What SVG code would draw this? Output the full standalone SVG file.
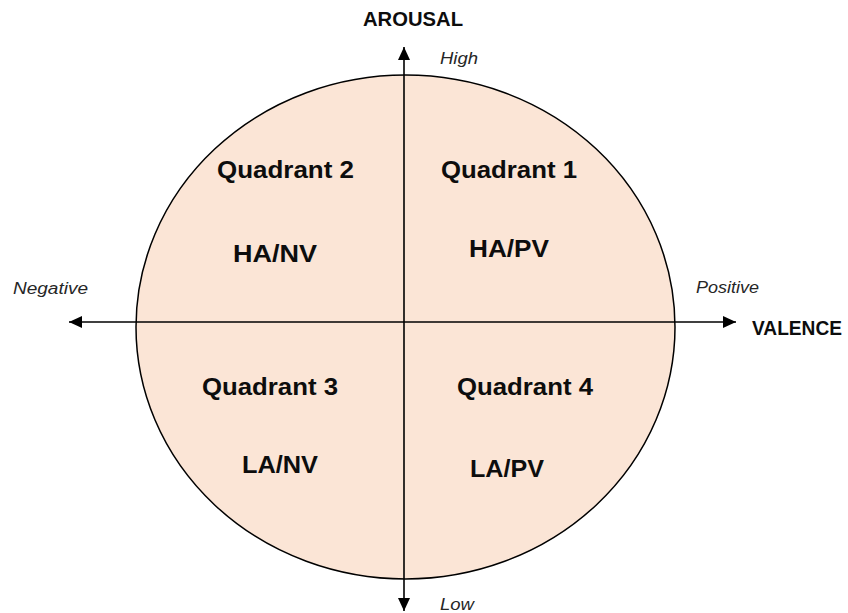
<svg xmlns="http://www.w3.org/2000/svg" width="848" height="613" viewBox="0 0 848 613">
  <style>
    .bold { font-family: "Liberation Sans", Arial, sans-serif; font-weight: bold; fill: #0d0d0d; }
    .q { font-size: 24px; }
    .ax { font-size: 20px; }
    .it { font-family: "Liberation Sans", Arial, sans-serif; font-style: italic; font-size: 16px; fill: #262626; }
    .axis { stroke: #000; stroke-width: 1.6; fill: none; }
  </style>
  <defs>
    <marker id="arrow" markerUnits="userSpaceOnUse" markerWidth="14" markerHeight="12" refX="13" refY="6" orient="auto">
      <path d="M0,0 L13,6 L0,12 Z" fill="#000"/>
    </marker>
  </defs>
  <rect width="848" height="613" fill="#fff"/>
  <g id="circle">
    <ellipse cx="405.5" cy="327" rx="269.5" ry="252" fill="#FBE5D6" stroke="#000" stroke-width="1.5"/>
  </g>
  <g id="connectors">
    <line class="axis" x1="404" y1="322" x2="736" y2="322" marker-end="url(#arrow)"/>
    <line class="axis" x1="404" y1="322" x2="69" y2="322" marker-end="url(#arrow)"/>
    <line class="axis" x1="404" y1="322" x2="404" y2="47" marker-end="url(#arrow)"/>
    <line class="axis" x1="404" y1="322" x2="404" y2="611" marker-end="url(#arrow)"/>
  </g>
  <g id="axis-labels">
    <text class="bold ax" x="363" y="26" textLength="100" lengthAdjust="spacingAndGlyphs">AROUSAL</text>
    <text class="bold ax" x="752" y="335" font-size="18.5" textLength="90" lengthAdjust="spacingAndGlyphs">VALENCE</text>
    <text class="it" x="440" y="64" textLength="38" lengthAdjust="spacingAndGlyphs">High</text>
    <text class="it" x="440" y="610" textLength="34" lengthAdjust="spacingAndGlyphs">Low</text>
    <text class="it" x="13" y="294" textLength="75" lengthAdjust="spacingAndGlyphs">Negative</text>
    <text class="it" x="696" y="293" textLength="63" lengthAdjust="spacingAndGlyphs">Positive</text>
  </g>
  <g id="quadrant1">
    <text class="bold q" x="441" y="178" textLength="136" lengthAdjust="spacingAndGlyphs">Quadrant 1</text>
    <text class="bold q" x="469" y="257" textLength="80" lengthAdjust="spacingAndGlyphs">HA/PV</text>
  </g>
  <g id="quadrant2">
    <text class="bold q" x="217" y="178" textLength="137" lengthAdjust="spacingAndGlyphs">Quadrant 2</text>
    <text class="bold q" x="233" y="262" textLength="84" lengthAdjust="spacingAndGlyphs">HA/NV</text>
  </g>
  <g id="quadrant3">
    <text class="bold q" x="202" y="395" textLength="136" lengthAdjust="spacingAndGlyphs">Quadrant 3</text>
    <text class="bold q" x="242" y="473" textLength="76" lengthAdjust="spacingAndGlyphs">LA/NV</text>
  </g>
  <g id="quadrant4">
    <text class="bold q" x="457" y="395" textLength="136" lengthAdjust="spacingAndGlyphs">Quadrant 4</text>
    <text class="bold q" x="470" y="477" textLength="74" lengthAdjust="spacingAndGlyphs">LA/PV</text>
  </g>
</svg>
